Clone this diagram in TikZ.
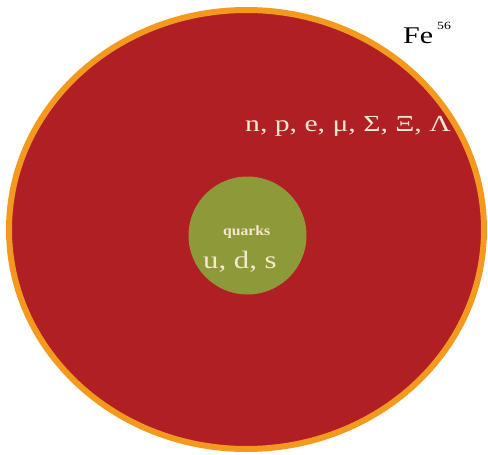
\documentclass[tikz,border=0pt]{standalone}
\usepackage{fontspec}
\setmainfont{Liberation Serif}
\newfontfamily\widehad[FakeStretch=1.29]{Liberation Serif}
\newfontfamily\wideuds[FakeStretch=1.23]{Liberation Serif}
\newfontfamily\widefe[FakeStretch=1.25]{Liberation Serif}
\newfontfamily\wideq[FakeStretch=1.12]{Liberation Serif}
\usetikzlibrary{shapes.geometric}
\definecolor{coreRed}{HTML}{B01F24}
\definecolor{rimOrange}{HTML}{F39A1E}
\definecolor{quarkGreen}{HTML}{8E9A3A}
\definecolor{paleText}{HTML}{F6E7CF}
\tikzset{
  lbl/.style={inner sep=0pt, anchor=base west},
}
\begin{document}
\begin{tikzpicture}[x=1pt,y=-1pt]
\useasboundingbox (0,0) rectangle (488,455);
\fill[white] (0,0) rectangle (488,455);
\node[ellipse, draw=rimOrange, line width=6pt, fill=coreRed, minimum width=475pt, minimum height=439pt, inner sep=0pt] (star) at (246.5,229.5) {};
\node[circle, fill=quarkGreen, minimum size=118pt, inner sep=0pt] (core) at (247.5,235.5) {};
\node[lbl, text=paleText, font=\wideq\bfseries\fontsize{14}{14}\selectfont] (qk) at (223,235) {quarks};
\node[lbl, text=paleText, font=\wideuds\fontsize{25}{25}\selectfont] (uds) at (203,268) {u, d, s};
\node[lbl, text=paleText, font=\widehad\fontsize{23}{23}\selectfont] (had) at (245,131) {n, p, e, μ, Σ, Ξ, Λ};
\node[lbl, text=black, font=\widefe\fontsize{24}{24}\selectfont] (fe) at (403,43) {Fe\hspace{4pt}\raisebox{14pt}{\fontsize{11}{11}\selectfont 56}};
\end{tikzpicture}
\end{document}
